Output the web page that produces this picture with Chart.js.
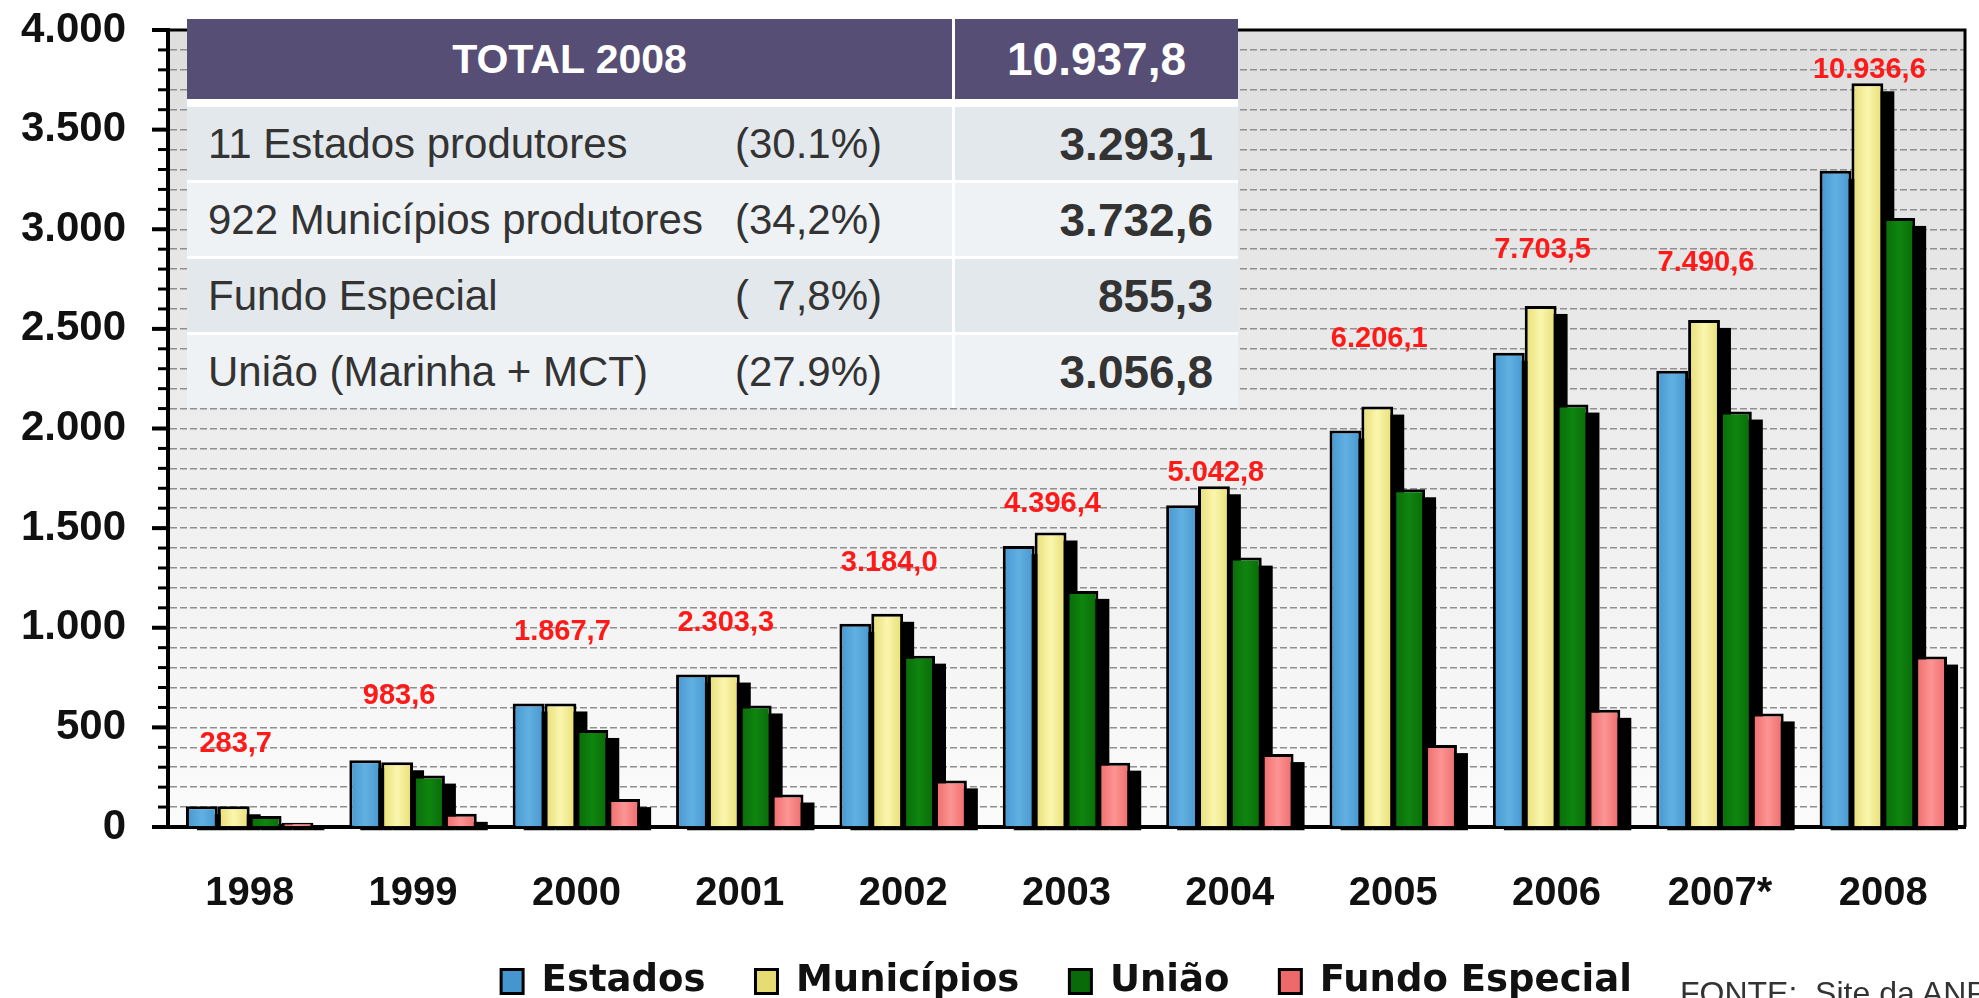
<!DOCTYPE html>
<html>
<head>
<meta charset="utf-8">
<script src="https://cdn.jsdelivr.net/npm/chart.js@4.4.0/dist/chart.umd.min.js"></script>
<style>
  body { margin: 0; background: #fff; }
  #wrap { position: relative; width: 1979px; height: 998px; overflow: hidden; background: #fff; }
  #tbl {
    position: absolute; left: 187px; top: 19px; display: grid;
    grid-template-columns: 765px 283px; grid-template-rows: 85px 73px 73px 73px 73px;
    column-gap: 3px; row-gap: 3px; background: #fff;
    font-family: 'Liberation Sans', Arial, sans-serif; color: #333;
  }
  #tbl div { display: flex; align-items: center; }
  #tbl .hd { background: #574e76; color: #fff; font-weight: bold; justify-content: center; height: 80px; align-self: start; }
  #tbl .lab { position: relative; font-size: 42px; white-space: pre; }
  #tbl .lab span.name { position: absolute; left: 21px; }
  #tbl .lab span.share { position: absolute; left: 548px; }
  #tbl .val { justify-content: flex-end; padding-right: 25px; font-size: 46px; font-weight: bold; }
  #fonte { position: absolute; left: 1680px; top: 977px; font: 32px/1 'Liberation Sans', Arial, sans-serif; color: #333; white-space: pre; }
</style>
</head>
<body>
<div id="wrap">
  <canvas id="chart" width="1979" height="998"></canvas>
  <div id="tbl"></div>
  <div id="fonte">FONTE:  Site da ANP</div>
</div>
<script>
var years = ['1998', '1999', '2000', '2001', '2002', '2003', '2004', '2005', '2006', '2007*', '2008'];
var estados = [104, 335, 620, 765, 1020, 1410, 1615, 1990, 2380, 2290, 3293.1];
var municipios = [104, 325, 620, 765, 1070, 1478, 1710, 2110, 2615, 2545, 3732.6];
var uniao = [55, 258, 487, 610, 860, 1185, 1352, 1695, 2120, 2085, 3056.8];
var fundo = [21, 66, 140, 163, 234, 323, 366, 411, 588, 570, 855.3];

// yearly totals printed in red, and the height (in R$ milhões) where each sits
var totalLabels = ['283,7', '983,6', '1.867,7', '2.303,3', '3.184,0', '4.396,4', '5.042,8', '6.206,1', '7.703,5', '7.490,6', '10.936,6'];
var totalLabelAt = [415, 655, 980, 1025, 1325, 1620, 1775, 2450, 2895, 2830, 3800];

var tableTotal = ['TOTAL 2008', '10.937,8'];
var tableNames = ['11 Estados produtores', '922 Municípios produtores', 'Fundo Especial', 'União (Marinha + MCT)'];
var tableShares = ['(30.1%)', '(34,2%)', '(  7,8%)', '(27.9%)'];
var tableValues = ['3.293,1', '3.732,6', '855,3', '3.056,8'];

// summary table over the top left of the plot
var tbl = document.getElementById('tbl');
tbl.innerHTML =
  '<div class="hd" style="font-size:41px">' + tableTotal[0] + '</div>' +
  '<div class="hd" style="font-size:46px">' + tableTotal[1] + '</div>' +
  tableNames.map((n, i) => {
    var bg = i % 2 ? '#eef2f5' : '#e3e8ec';
    return '<div class="lab" style="background:' + bg + '"><span class="name">' + n +
      '</span><span class="share">' + tableShares[i] + '</span></div>' +
      '<div class="val" style="background:' + bg + '">' + tableValues[i] + '</div>';
  }).join('');

var fmt = v => v >= 1000 ? Math.floor(v / 1000) + '.' + String(v % 1000).padStart(3, '0') : String(v);

// lighter stripe down the middle of each bar
function shade(edge, mid) {
  return c => {
    var el = c.element;
    if (!el || !isFinite(el.x) || !isFinite(el.width)) return mid;
    var g = c.chart.ctx.createLinearGradient(el.x - el.width / 2, 0, el.x + el.width / 2, 0);
    g.addColorStop(0, edge);
    g.addColorStop(0.5, mid);
    g.addColorStop(1, edge);
    return g;
  };
}

var plotBg = {
  id: 'plotBg',
  beforeDraw(chart) {
    var {ctx, chartArea: a} = chart;
    var g = ctx.createLinearGradient(0, a.top, 0, a.bottom);
    g.addColorStop(0, '#dedede');
    g.addColorStop(1, '#fbfbfb');
    ctx.save();
    ctx.fillStyle = g;
    ctx.fillRect(a.left, a.top, a.width, a.height);
    ctx.restore();
  }
};

var barShadow = {
  id: 'barShadow',
  beforeDatasetsDraw(chart) {
    var ctx = chart.ctx;
    ctx.save();
    ctx.fillStyle = '#000';
    chart.data.datasets.forEach((ds, i) => {
      chart.getDatasetMeta(i).data.forEach(bar => {
        var p = bar.getProps(['x', 'y', 'base', 'width'], true);
        var h = Math.max(p.base - p.y - 4, 3);
        ctx.fillRect(p.x - p.width / 2 + 11, p.base + 4 - h, p.width, h);
      });
    });
    ctx.restore();
  }
};

var totals = {
  id: 'totals',
  afterDatasetsDraw(chart) {
    var {ctx, scales: {x, y}} = chart;
    ctx.save();
    ctx.fillStyle = '#ff1a1a';
    ctx.font = 'bold 29px "Liberation Sans", Arial, sans-serif';
    ctx.textAlign = 'center';
    ctx.textBaseline = 'middle';
    totalLabels.forEach((t, i) => {
      ctx.fillText(t, x.getPixelForValue(i) - 14, y.getPixelForValue(totalLabelAt[i]));
    });
    ctx.restore();
  }
};

var axisMarks = {
  id: 'axisMarks',
  afterDraw(chart) {
    var {ctx, chartArea: a, scales: {y}} = chart;
    ctx.save();
    ctx.strokeStyle = '#000';
    y.ticks.forEach(t => {
      var py = y.getPixelForValue(t.value);
      var major = t.value % 500 === 0;
      ctx.lineWidth = major ? 4 : 3;
      ctx.beginPath();
      ctx.moveTo(a.left - (major ? 16 : 10), py);
      ctx.lineTo(a.left, py);
      ctx.stroke();
    });
    ctx.lineWidth = 3;
    ctx.beginPath();
    ctx.moveTo(a.left, a.top);
    ctx.lineTo(a.right, a.top);
    ctx.lineTo(a.right, a.bottom);
    ctx.stroke();
    ctx.restore();
  }
};

var chart = new Chart(document.getElementById('chart'), {
  type: 'bar',
  data: {
    labels: years,
    datasets: [
      {label: 'Estados', data: estados, backgroundColor: shade('#4596cf', '#62b0e2')},
      {label: 'Municípios', data: municipios, backgroundColor: shade('#e6dc72', '#fbf6ae')},
      {label: 'União', data: uniao, backgroundColor: shade('#086a08', '#0f850f')},
      {label: 'Fundo Especial', data: fundo, backgroundColor: shade('#ee6a6a', '#fc9494')}
    ]
  },
  plugins: [plotBg, barShadow, totals, axisMarks],
  options: {
    responsive: false,
    animation: false,
    layout: {padding: {top: 30, right: 14, bottom: -12, left: 0}},
    datasets: {bar: {categoryPercentage: 0.78, barPercentage: 1, borderWidth: 3, borderColor: '#000'}},
    plugins: {
      tooltip: {enabled: false},
      legend: {
        position: 'bottom', fullSize: false,
        labels: {
          boxWidth: 22, boxHeight: 24, padding: 50, color: '#111',
          font: {family: 'DejaVu Sans', weight: 'bold', size: 37}
        }
      }
    },
    scales: {
      x: {
        grid: {display: false, drawTicks: false},
        border: {color: '#000', width: 4},
        ticks: {padding: 43, color: '#111', font: {family: 'Liberation Sans', weight: 'bold', size: 40}},
        afterFit: s => { s.height = 86; }
      },
      y: {
        min: 0, max: 4000,
        ticks: {
          stepSize: 100, autoSkip: false, padding: 42, color: '#111',
          font: {family: 'Liberation Sans', weight: 'bold', size: 42},
          callback: v => v % 500 === 0 ? fmt(v) : ''
        },
        grid: {
          drawTicks: false, lineWidth: 1.5,
          color: c => (c.tick && c.tick.value % 4000 !== 0) ? '#8f8f8f' : 'rgba(0,0,0,0)'
        },
        border: {color: '#000', width: 4, dash: [7, 3]},
        afterFit: s => { s.width = 168; s.paddingTop = 0; s.paddingBottom = 0; }
      }
    }
  }
});
chart.update();
</script>
</body>
</html>
